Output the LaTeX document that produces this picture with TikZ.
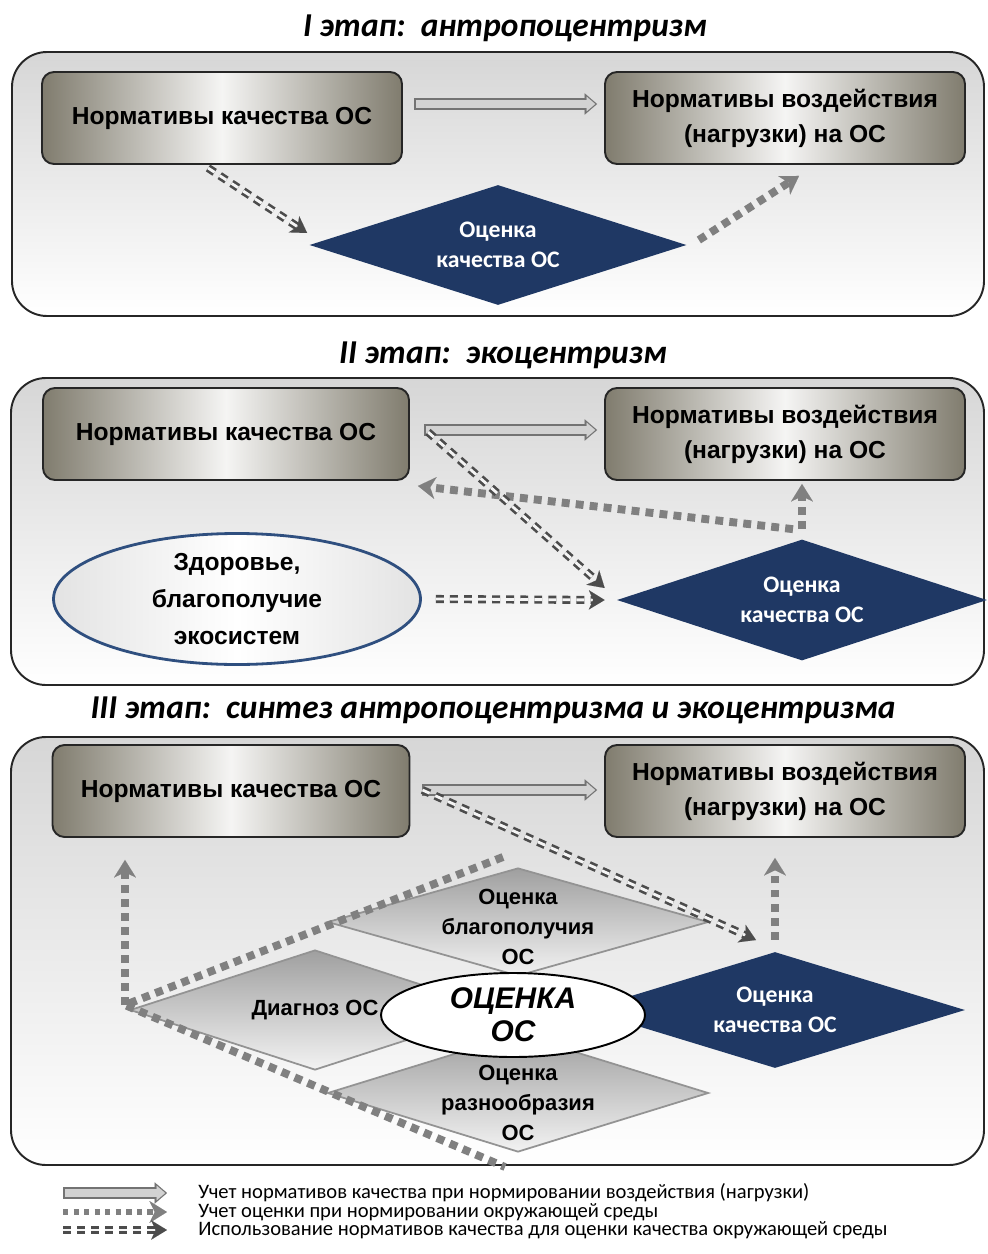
\documentclass[tikz,border=0pt]{standalone}
\usepackage{fontspec}
\setmainfont{Carlito}
\newfontfamily\boxfont{Liberation Sans}
\usepackage{tikz}
\usetikzlibrary{arrows.meta,shapes.geometric}
\tikzset{>=latex}
\usepackage{xcolor}
\definecolor{navyos}{RGB}{31,56,100}
\definecolor{boxdark}{RGB}{128,124,110}
\definecolor{ellblue}{RGB}{47,79,127}
\newdimen\pxu \pxu=0.02cm
\tikzstyle{panel}=[line width=1.1pt,draw=black!85,rounded corners=0.7cm,top color=gray!32,bottom color=white]
\tikzstyle{title}=[font=\fontsize{19}{21}\selectfont\bfseries\itshape]
\tikzstyle{box}=[rounded corners=0.24cm,draw=black!85,line width=1.1pt,left color=boxdark,right color=boxdark,middle color=white!92!boxdark,
  minimum width=360\pxu,minimum height=92\pxu,inner sep=0,align=center,font=\boxfont\fontsize{14}{20}\selectfont\bfseries]
\tikzstyle{bluedia}=[diamond,fill=navyos,inner sep=0]
\tikzstyle{bluetext}=[text=white,align=center,font=\fontsize{13.5}{17}\selectfont\bfseries]
\tikzstyle{graydia}=[diamond,draw=gray!85,line width=1pt,top color=gray!75,bottom color=gray!10,inner sep=0]
\tikzstyle{graytext}=[align=center,font=\boxfont\fontsize{12.5}{17}\selectfont\bfseries]
\tikzstyle{hollow}=[line width=7pt,draw=black!55,-{Triangle[length=7pt,width=12pt,line width=0.01pt]},
  postaction={draw=gray!35,line width=4.8pt,-{Triangle[length=4.8pt,width=8.3pt,line width=0.01pt]},shorten >=1.1pt,shorten <=1.1pt}]
\tikzstyle{dotline}=[draw=gray,line width=4.5pt,dash pattern=on 4.5pt off 3.5pt]
\tikzstyle{dotarrow}=[dotline,-{Stealth[length=10pt,width=12.5pt,inset=3pt,line width=0.01pt]}]
\tikzstyle{dblarrow}=[draw=black!70,line width=1.5pt,double=white!92!gray,double distance=1.6pt,dash pattern=on 4.5pt off 3.5pt,
  -{Stealth[length=9pt,width=11pt,inset=2.5pt,line width=0.01pt]}]
\tikzstyle{legend}=[anchor=west,inner sep=0,font=\fontsize{11.7}{13}\selectfont]

\begin{document}
\begin{tikzpicture}[x=0.02cm,y=-0.02cm]
\useasboundingbox (0,0) rectangle (987,1254);

\node[title] (t1) at (505,28) {I этап:\ \ антропоцентризм};
\draw[panel] (12,52) rectangle (984,316);
\node[box] (q1) at (222,118) {Нормативы качества ОС};
\node[box] (n1) at (785,118) {Нормативы воздействия\\(нагрузки) на ОС};
\node[bluedia,minimum width=377\pxu,minimum height=120\pxu,label={[bluetext]center:Оценка\\качества ОС}] (d1) at (498,245) {};
\draw[hollow] ([xshift=11\pxu,yshift=14\pxu]q1.east) -- ([xshift=-7\pxu,yshift=14\pxu]n1.west);
\draw[dblarrow] ([xshift=-14\pxu,yshift=-3\pxu]q1.south) -- ([xshift=-2\pxu,yshift=12\pxu]d1.west);
\draw[dotarrow] ([xshift=12\pxu,yshift=5\pxu]d1.east) -- ([xshift=14\pxu,yshift=-11\pxu]n1.south);

\node[title] (t2) at (503,355) {II этап:\ \ экоцентризм};
\draw[panel] (11,378) rectangle (984,685);
\node[box,minimum width=366\pxu] (q2) at (226,434) {Нормативы качества ОС};
\node[box] (n2) at (785,434) {Нормативы воздействия\\(нагрузки) на ОС};
\node[ellipse,draw=ellblue,line width=1.6pt,left color=gray!22,right color=gray!22,middle color=white,minimum width=367\pxu,minimum height=131\pxu,
  inner sep=0,align=center,font=\boxfont\fontsize{14}{21}\selectfont\bfseries] (e2) at (237,599) {Здоровье,\\благополучие\\экосистем};
\node[bluedia,minimum width=370\pxu,minimum height=121\pxu,label={[bluetext]center:Оценка\\качества ОС}] (d2) at (802,600) {};
\coordinate (s2) at ([yshift=10\pxu]d2.north);
\draw[hollow] ([xshift=14\pxu,yshift=4\pxu]q2.east) -- ([xshift=-7\pxu,yshift=4\pxu]n2.west);
\draw[dotarrow] (s2) -- ([yshift=-3\pxu]s2 |- n2.south);
\draw[dotarrow] ([xshift=-9\pxu]s2) -- ([xshift=8\pxu,yshift=-5\pxu]q2.south east);
\draw[dblarrow] ([xshift=18\pxu,yshift=2\pxu]q2.east) -- ([xshift=-12\pxu,yshift=12\pxu]d2.west);
\draw[dblarrow] ([xshift=14\pxu]e2.east) -- ([xshift=-12\pxu]d2.west);

\node[title] (t3) at (493,710) {III этап:\ \ синтез антропоцентризма и экоцентризма};
\draw[panel] (11,737) rectangle (984,1165);
\node[box,minimum width=357\pxu] (q3) at (231,791) {Нормативы качества ОС};
\node[box] (n3) at (785,791) {Нормативы воздействия\\(нагрузки) на ОС};
\node[graydia,minimum width=381\pxu,minimum height=108\pxu,label={[graytext,yshift=-5\pxu]center:Оценка\\благополучия\\ОС}] (g1) at (518,922) {};
\node[graydia,minimum width=370\pxu,minimum height=120\pxu,label={[graytext]center:Диагноз ОС}] (g2) at (315,1010) {};
\node[graydia,minimum width=381\pxu,minimum height=118\pxu,label={[graytext,yshift=-10\pxu]center:Оценка\\разнообразия\\ОС}] (g3) at (518,1093) {};
\node[bluedia,minimum width=380\pxu,minimum height=116\pxu,label={[bluetext]center:Оценка\\качества ОС}] (d3) at (775,1010) {};
\node[ellipse,draw=black,line width=1.1pt,fill=white,minimum width=264\pxu,minimum height=84\pxu,inner sep=0,align=center,
  font=\boxfont\fontsize{17}{19}\selectfont\bfseries\itshape] (eo) at (513,1015) {ОЦЕНКА\\ОС};
\coordinate (v3) at (125,1005);
\coordinate (u3) at (503,857);
\coordinate (w3) at (505,1167);
\coordinate (c3) at (756,940);
\draw[hollow] ([xshift=12\pxu,yshift=1\pxu]q3.east) -- ([xshift=-7\pxu,yshift=1\pxu]n3.west);
\draw[dblarrow] ([xshift=12\pxu,yshift=1\pxu]q3.east) -- (c3);
\draw[dotarrow] ([yshift=12\pxu]d3.north) -- ([yshift=-20\pxu]d3.north |- n3.south);
\draw[dotline] (u3) -- (v3) -- (w3);
\draw[dotarrow] (v3) -- ([yshift=-22\pxu]v3 |- q3.south);

\coordinate (l1a) at (63,1193);
\coordinate (l1b) at (167,1193);
\coordinate (l2a) at (63,1212);
\coordinate (l2b) at (167,1212);
\coordinate (l3a) at (63,1230);
\coordinate (l3b) at (167,1230);
\draw[hollow] (l1a) -- (l1b);
\draw[dotarrow,line width=3pt,dash pattern=on 3pt off 3pt] (l2a) -- (l2b);
\draw[dblarrow] (l3a) -- (l3b);
\node[legend] (x1) at (198,1193) {Учет нормативов качества при нормировании воздействия (нагрузки)};
\node[legend] (x2) at (198,1212) {Учет оценки при нормировании окружающей среды};
\node[legend] (x3) at (198,1230) {Использование нормативов качества для оценки качества окружающей среды};
\end{tikzpicture}
\end{document}
